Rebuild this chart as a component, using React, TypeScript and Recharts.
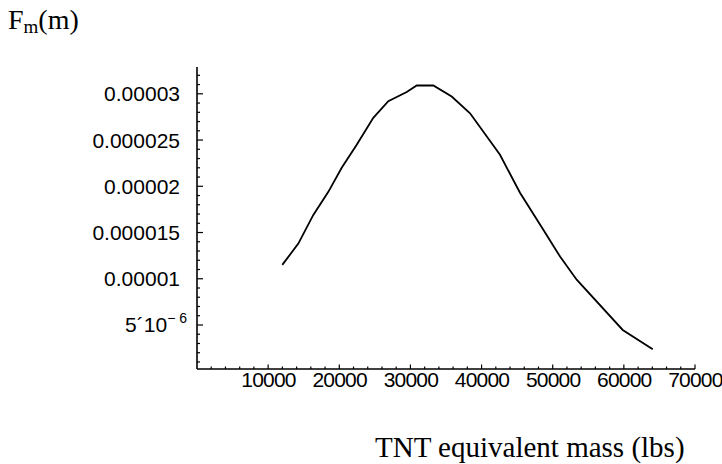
import React from 'react';
import { LineChart, Line, XAxis, YAxis } from 'recharts';

// TNT equivalent mass (lbs)
const massLbs = [
  11990, 14240, 16350, 18460, 20340, 22450, 24780, 26890, 29480, 30880,
  33220, 35800, 38380, 42590, 45400, 48680, 51030, 53370, 59840, 64060,
];
// F_m(m)
const density = [
  0.0000115, 0.0000138, 0.0000169, 0.0000194, 0.000022, 0.0000245, 0.0000274,
  0.0000292, 0.0000302, 0.0000309, 0.0000309, 0.0000297, 0.0000279, 0.0000234,
  0.0000193, 0.0000153, 0.0000124, 0.0000099, 0.00000446, 0.00000237,
];

const xMajorTicks = [10000, 20000, 30000, 40000, 50000, 60000, 70000];
const xTickLabels = ['10000', '20000', '30000', '40000', '50000', '60000', '70000'];
const xMinorStep = 2000;

const yMajorTicks = [0.000005, 0.00001, 0.000015, 0.00002, 0.000025, 0.00003];
const yTickLabels = ['5´10', '0.00001', '0.000015', '0.00002', '0.000025', '0.00003'];
const yMinorStep = 0.000001;

const xAllTicks = Array.from({ length: 35 }, (_, i) => (i + 1) * xMinorStep);
const yAllTicks = Array.from({ length: 32 }, (_, i) => (i + 1) * yMinorStep);

const data = massLbs.map((m, i) => ({ m, f: density[i] }));

const TICK_FONT = "'Liberation Sans', Arial, sans-serif";
const SERIF = "'Liberation Serif', 'Times New Roman', serif";

const XTick = (props: any) => {
  const { x, y, payload } = props;
  const v = payload.value as number;
  const idx = xMajorTicks.findIndex((t) => Math.abs(t - v) < 1);
  const major = idx >= 0;
  return (
    <g>
      <line x1={x} x2={x} y1={y} y2={y - (major ? 4.5 : 2.5)} stroke="#000" strokeWidth={1.2} />
      {major && (
        <text
          x={x + 0.4}
          y={y + 18}
          textAnchor="middle"
          fontFamily={TICK_FONT}
          fontSize={21}
          letterSpacing={-0.8}
          fill="#000"
        >
          {xTickLabels[idx]}
        </text>
      )}
    </g>
  );
};

const YTick = (props: any) => {
  const { x, y, payload } = props;
  const v = payload.value as number;
  const idx = yMajorTicks.findIndex((t) => Math.abs(t - v) < 1e-8);
  const major = idx >= 0;
  return (
    <g>
      <line x1={x} x2={x + (major ? 6 : 3)} y1={y} y2={y} stroke="#000" strokeWidth={1.2} />
      {major && idx === 0 && (
        <text x={x - 10} y={y + 7.5} textAnchor="end" fontFamily={TICK_FONT} fontSize={21} fill="#000">
          {yTickLabels[idx]}
          <tspan fontSize={14} dy={-9}>{'− 6'}</tspan>
        </text>
      )}
      {major && idx > 0 && (
        <text x={x - 17} y={y + 7.5} textAnchor="end" fontFamily={TICK_FONT} fontSize={21} fill="#000">
          {yTickLabels[idx]}
        </text>
      )}
    </g>
  );
};

export default function App() {
  return (
    <div style={{ position: 'absolute', left: 0, top: 0, width: 722, height: 464, background: '#fff' }}>
      <LineChart
        width={722}
        height={464}
        data={data}
        margin={{ top: 67, right: 27, left: 0, bottom: 0 }}
      >
        <XAxis
          dataKey="m"
          type="number"
          domain={[0, 70000]}
          ticks={xAllTicks}
          interval={0}
          tick={(p: any) => <XTick {...p} />}
          tickLine={false}
          tickSize={0}
          tickMargin={0}
          height={95}
          axisLine={{ stroke: '#000', strokeWidth: 1.6 }}
        />
        <YAxis
          type="number"
          domain={[0.00000024, 0.0000329]}
          allowDataOverflow
          ticks={yAllTicks}
          interval={0}
          tick={(p: any) => <YTick {...p} />}
          tickLine={false}
          tickSize={0}
          tickMargin={0}
          width={197}
          axisLine={{ stroke: '#000', strokeWidth: 1.6 }}
        />
        <Line
          dataKey="f"
          type="linear"
          stroke="#000"
          strokeWidth={1.8}
          dot={false}
          isAnimationActive={false}
        />
      </LineChart>
      <svg
        width={722}
        height={464}
        style={{ position: 'absolute', left: 0, top: 0, pointerEvents: 'none' }}
      >
        <text x={8} y={29} fontFamily={SERIF} fontSize={28} fill="#000">
          F<tspan fontSize={19} dy={4}>m</tspan>
          <tspan dy={-4}>(m)</tspan>
        </text>
        <text x={375} y={457} fontFamily={SERIF} fontSize={29} fill="#000">
          TNT equivalent mass (lbs)
        </text>
      </svg>
    </div>
  );
}
